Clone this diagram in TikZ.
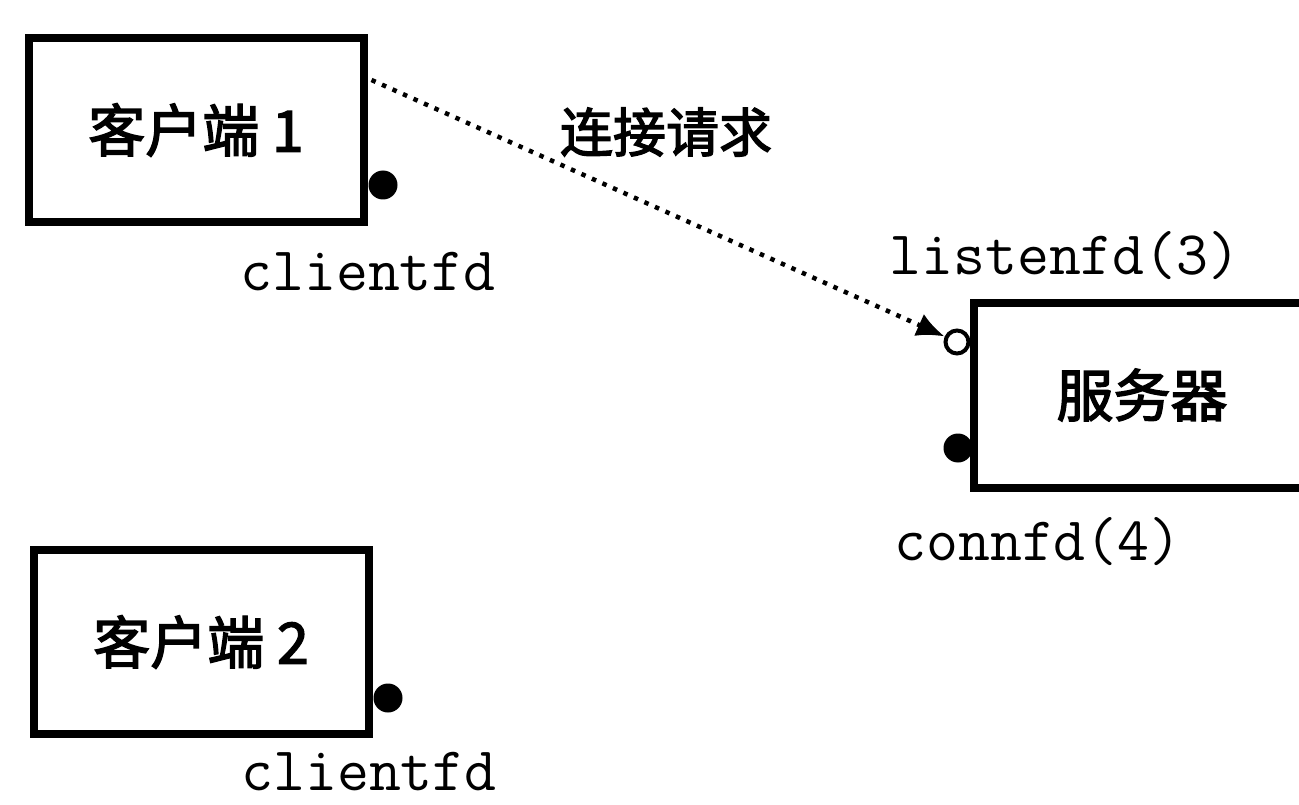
\documentclass[tikz,border=0pt]{standalone}
\usepackage{fontspec}
\newfontfamily\cjk{Noto Sans CJK SC}[FakeBold=2.5]
\usetikzlibrary{arrows.meta, calc}

\tikzset{
	hostbox/.style={draw, line width=8pt, minimum width=335pt, minimum height=184pt,
		inner sep=0pt, font=\cjk\fontsize{57}{60}\selectfont},
	fdlabel/.style={inner sep=0pt, font=\ttfamily\fontsize{62}{66}\selectfont},
	sockfull/.style={circle, fill, inner sep=0pt, minimum size=29pt},
	sockopen/.style={circle, draw, fill=white, line width=4pt, inner sep=0pt, minimum size=23pt},
	request/.style={line width=4.5pt, dash pattern=on 4.5pt off 7pt,
		-{Latex[length=28pt, width=24pt]}},
}

\begin{document}
\begin{tikzpicture}[x=1pt, y=-1pt]
	\useasboundingbox (0,0) rectangle (1299,805);
	\clip (0,0) rectangle (1299,805);

	% Hosts
	\node[hostbox] (client1) at (196,130) {客户端 1};
	\node[hostbox] (client2) at (201,642) {客户端 2};
	\node[hostbox, minimum width=336pt, minimum height=185pt] (server) at (1142,395) {服务器};

	% Sockets
	\node[sockfull] (c1fd) at (383,185) {};
	\node[sockfull] (c2fd) at (388,698) {};
	\node[sockopen] (listen) at (957,342) {};
	\node[sockfull] (conn) at (958,448) {};

	% Descriptor names
	\node[fdlabel] (c1fdname) at (368,272) {clientfd};
	\node[fdlabel] (c2fdname) at (369,772) {clientfd};
	\node[fdlabel] (listenname) at (1065,256) {listenfd(3)};
	\node[fdlabel] (connname) at (1038,542) {connfd(4)};

	% Connection request
	\coordinate (req) at ($(client1.north east)+(4,46)$);
	\draw[request] (req) -- (listen);
	\node[font=\cjk\fontsize{53}{56}\selectfont] (reqname) at (666,132) {连接请求};
\end{tikzpicture}
\end{document}
